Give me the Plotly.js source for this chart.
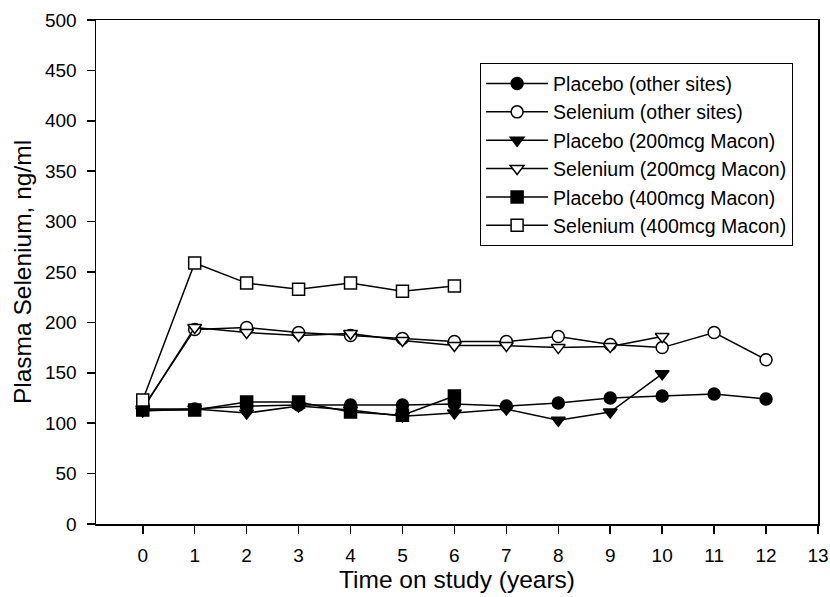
<!DOCTYPE html>
<html>
<head>
<meta charset="utf-8">
<script src="https://cdn.plot.ly/plotly-3.0.1.min.js"></script>
<style>html,body{margin:0;padding:0;background:#fff}#chart{width:830px;height:597px}</style>
</head>
<body>
<div id="chart"></div>
<script>
const yearsLong = [0,1,2,3,4,5,6,7,8,9,10,11,12];
const years200 = [0,1,2,3,4,5,6,7,8,9,10];
const years400 = [0,1,2,3,4,5,6];
const placeboOther = [114,114,117,118,118,118,119,117,120,125,127,129,124];
const seleniumOther = [115,193,195,190,187,184,181,181,186,178,175,190,163];
const placebo200 = [112,114,110,117,113,107,110,114,103,111,149];
const selenium200 = [114,195,190,187,189,182,177,177,175,176,186];
const placebo400 = [113,113,121,121,111,108,127];
const selenium400 = [123,259,239,233,239,231,236];
const names = ["Placebo (other sites)","Selenium (other sites)","Placebo (200mcg Macon)","Selenium (200mcg Macon)","Placebo (400mcg Macon)","Selenium (400mcg Macon)"];
const xTicks = [0,1,2,3,4,5,6,7,8,9,10,11,12,13];
const yTicks = [0,50,100,150,200,250,300,350,400,450,500];

function tr(x, y, name, symbol, filled) {
  return {
    x: x, y: y, name: name, type: 'scatter', mode: 'lines+markers',
    line: {color: '#000', width: 1.5},
    marker: {symbol: symbol, size: 12, color: filled ? '#000' : '#fff', line: {color: '#000', width: 1.5}}
  };
}
const data = [
  tr(yearsLong, placeboOther, names[0], 'circle', true),
  tr(yearsLong, seleniumOther, names[1], 'circle', false),
  tr(years200, placebo200, names[2], 'triangle-down', true),
  tr(years200, selenium200, names[3], 'triangle-down', false),
  tr(years400, placebo400, names[4], 'square', true),
  tr(years400, selenium400, names[5], 'square', false)
];
const layout = {
  width: 830, height: 597,
  margin: {l: 96, r: 12, t: 20, b: 73},
  paper_bgcolor: '#fff', plot_bgcolor: '#fff',
  font: {family: 'Liberation Sans, Arial, sans-serif', color: '#000', size: 19},
  showlegend: true,
  legend: {
    x: 0.532, y: 0.914, xanchor: 'left', yanchor: 'top',
    bordercolor: '#000', borderwidth: 1, bgcolor: '#fff',
    font: {size: 19.5}, itemwidth: 62, tracegroupgap: 0
  },
  xaxis: {
    range: [-0.9, 13], tickvals: xTicks, ticktext: xTicks.map(String),
    showgrid: false, zeroline: false,
    showline: true, linecolor: '#000', linewidth: 1.5, mirror: true,
    ticks: 'outside', ticklen: 8, tickwidth: 1.5, tickcolor: '#000',
    tickfont: {size: 19}, ticklabelstandoff: 6,
    title: {text: 'Time on study (years)', font: {size: 24.5}, standoff: 4}
  },
  yaxis: {
    range: [0, 500], tickvals: yTicks, ticktext: yTicks.map(String),
    showgrid: false, zeroline: false,
    showline: true, linecolor: '#000', linewidth: 1.5, mirror: true,
    ticks: 'outside', ticklen: 8, tickwidth: 1.5, tickcolor: '#000',
    tickfont: {size: 19}, ticklabelstandoff: 6,
    title: {text: 'Plasma Selenium, ng/ml', font: {size: 24.5}, standoff: 6}
  }
};
Plotly.newPlot('chart', data, layout, {displayModeBar: false, staticPlot: true});
</script>
</body>
</html>
